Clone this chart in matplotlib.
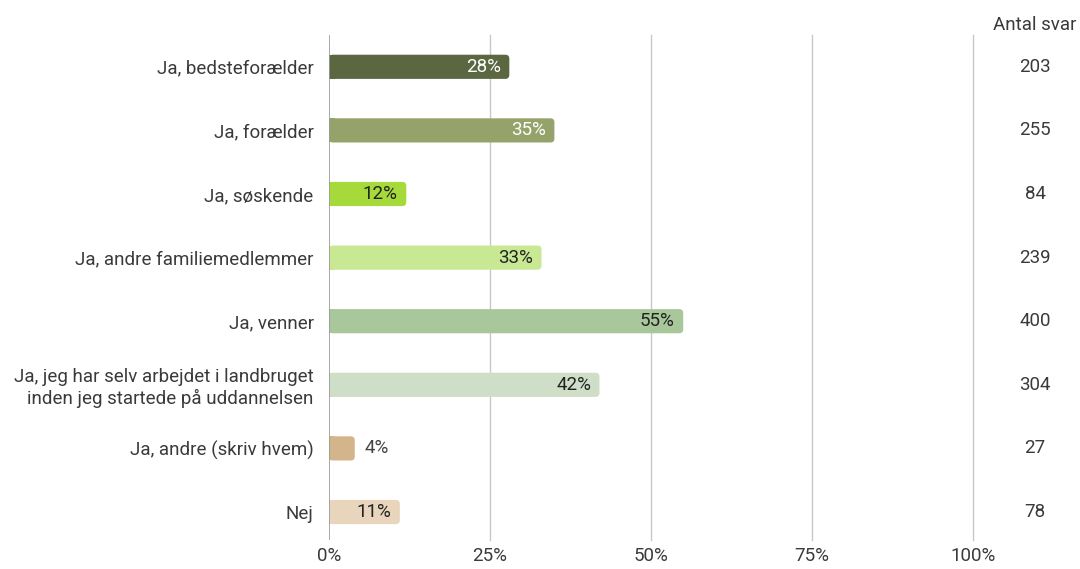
import matplotlib
matplotlib.use("Agg")
import matplotlib.pyplot as plt
from matplotlib.patches import FancyBboxPatch

categories = ["Ja, bedsteforælder", "Ja, forælder", "Ja, søskende",
              "Ja, andre familiemedlemmer", "Ja, venner",
              "Ja, jeg har selv arbejdet i landbruget\ninden jeg startede på uddannelsen",
              "Ja, andre (skriv hvem)", "Nej"]
values = [28, 35, 12, 33, 55, 42, 4, 11]
counts = [203, 255, 84, 239, 400, 304, 27, 78]
colors = ["#5b6741", "#95a36b", "#a6d93a", "#c8e894", "#a8c79b", "#cfdfc7", "#d4b48b", "#e8d5bb"]
label_colors = ["white", "white", "#222222", "#222222", "#222222", "#222222", "#444444", "#222222"]
xticks = [0, 25, 50, 75, 100]
xticklabels = ["0%", "25%", "50%", "75%", "100%"]

plt.rcParams['font.family'] = ['Roboto', 'DejaVu Sans']
FS = 13.5
TXT = "#3a3a3a"
fig = plt.figure(figsize=(10.8, 5.69), dpi=100)
ax = fig.add_axes([329/1080, 1-540/569, (973-329)/1080, (540-35)/569])

bar_h = 0.38
ax.set_xlim(0, 100)
ax.set_ylim(7.44, -0.5)

px_x = 100 / 644
px_y = 7.94 / 505
aspect = px_y / px_x
r = 4 * px_x
for i, (v, c) in enumerate(zip(values, colors)):
    p = FancyBboxPatch((0, i - bar_h/2), v, bar_h,
                       boxstyle=f"round,pad=0,rounding_size={r}",
                       mutation_aspect=aspect, facecolor=c, edgecolor="none", zorder=3)
    ax.add_patch(p)
    ax.barh(i, min(v, 1), height=bar_h, color=c, zorder=3, linewidth=0)
    if v >= 8:
        ax.text(v - 1.3, i, f"{v}%", ha="right", va="center", fontsize=FS,
                color=label_colors[i], zorder=4)
    else:
        ax.text(v + 1.5, i, f"{v}%", ha="left", va="center", fontsize=FS,
                color=label_colors[i], zorder=4)

for x in xticks[1:]:
    ax.axvline(x, color="#c8c8c8", linewidth=1, zorder=1, clip_on=False)
ax.axvline(0, color="#9a9a9a", linewidth=1.2, zorder=5)

ax.set_yticks(range(len(categories)))
ax.set_yticklabels(categories, fontsize=FS, color=TXT)
ax.set_xticks(xticks)
ax.set_xticklabels(xticklabels, fontsize=FS, color=TXT)
ax.tick_params(axis="both", length=0)
ax.tick_params(axis="y", pad=11)
ax.tick_params(axis="x", pad=5)
for s in ax.spines.values():
    s.set_visible(False)

cx = 1035/1080
fig.text(cx, 1-25/569, "Antal svar", ha="center", va="center", fontsize=FS, color=TXT)
for i, n in enumerate(counts):
    ax.annotate(str(n), xy=(cx, i), xycoords=("figure fraction", "data"),
                ha="center", va="center", fontsize=FS, color=TXT)

fig.savefig("out.png", dpi=100)
